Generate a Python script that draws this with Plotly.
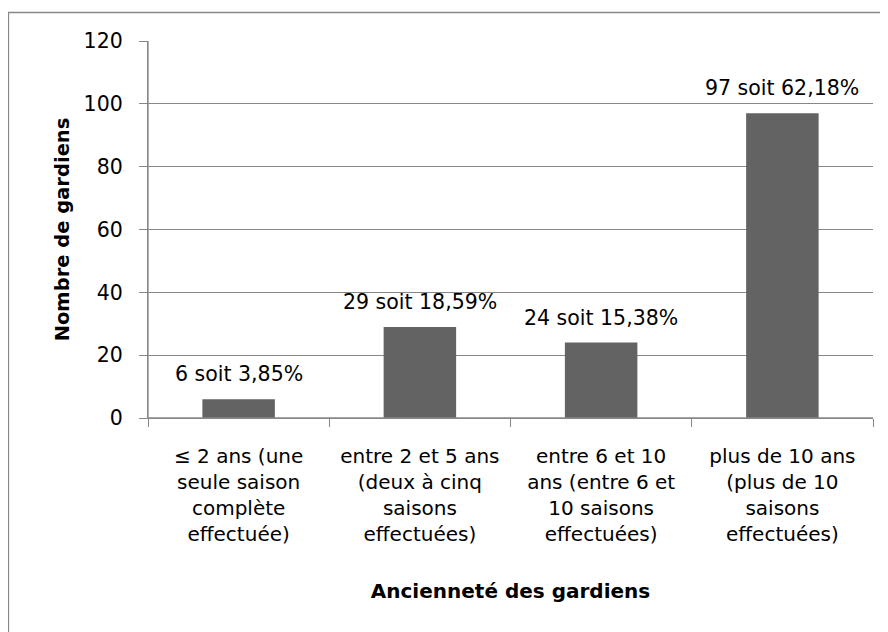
import plotly.graph_objects as go

categories = [
    "≤ 2 ans (une<br>seule saison<br>complète<br>effectuée)",
    "entre 2 et 5 ans<br>(deux à cinq<br>saisons<br>effectuées)",
    "entre 6 et 10<br>ans (entre 6 et<br>10 saisons<br>effectuées)",
    "plus de 10 ans<br>(plus de 10<br>saisons<br>effectuées)",
]
counts = [6, 29, 24, 97]
labels = ["6 soit 3,85%", "29 soit 18,59%", "24 soit 15,38%", "97 soit 62,18%"]
y_ticks = [0, 20, 40, 60, 80, 100, 120]

FONT = "DejaVu Sans"
GRAY = "#878787"
BAR = "#636363"

fig = go.Figure()
fig.add_trace(go.Bar(x=categories, y=counts, marker=dict(color=BAR, line=dict(width=0)),
                     width=0.4, hoverinfo="skip"))

for c, v, t in zip(categories, counts, labels):
    fig.add_annotation(x=c, y=v, text=t, showarrow=False, yanchor="bottom",
                       yshift=11, font=dict(family=FONT, size=20.5, color="#000000"))

# the page body has an 8px margin, so the figure is drawn from (8, 8)
W, H = 880, 624
L, R, T, B = 140, 15, 33, 214
pw, ph = W - L - R, H - T - B

def px(x):
    return (x - L) / pw

def py(y):
    return (H - B - y) / ph

# outer chart border
fig.add_shape(type="rect", xref="paper", yref="paper",
              x0=px(0.5), x1=px(900), y0=py(4.5), y1=py(650),
              line=dict(color=GRAY, width=1.3), fillcolor="rgba(0,0,0,0)", layer="below")
# axis lines (left and bottom of the plot area)
fig.add_shape(type="line", xref="paper", yref="paper", x0=0, x1=0, y0=0, y1=1,
              line=dict(color=GRAY, width=1.3), layer="above")
fig.add_shape(type="line", xref="paper", yref="paper", x0=0, x1=1, y0=0, y1=0,
              line=dict(color=GRAY, width=1.3), layer="above")

fig.update_layout(
    width=W, height=H,
    margin=dict(l=L, r=R, t=T, b=B, autoexpand=False),
    paper_bgcolor="white", plot_bgcolor="white",
    showlegend=False,
    font=dict(family=FONT, size=20, color="#000000"),
)
fig.update_xaxes(
    type="category",
    showline=True, linecolor=GRAY, linewidth=1.3,
    ticks="outside", tickson="boundaries", ticklen=8, tickcolor=GRAY, tickwidth=1.3,
    showgrid=False,
    tickfont=dict(family=FONT, size=20),
    ticklabelstandoff=20,
    title=dict(text="<b>Ancienneté des gardiens</b>", font=dict(family=FONT, size=20), standoff=38),
    automargin=False,
)
fig.update_yaxes(
    range=[0, 120], tickvals=y_ticks, ticktext=[str(v) for v in y_ticks],
    showline=True, linecolor=GRAY, linewidth=1.3,
    ticks="outside", ticklen=8, tickcolor=GRAY, tickwidth=1.3,
    showgrid=True, gridcolor=GRAY, gridwidth=1.3,
    zeroline=False,
    tickfont=dict(family=FONT, size=20.5),
    ticklabelstandoff=12,
    title=dict(text="<b>Nombre de gardiens</b>", font=dict(family=FONT, size=19.5), standoff=8),
    automargin=False,
)

fig.write_html("out.html")
